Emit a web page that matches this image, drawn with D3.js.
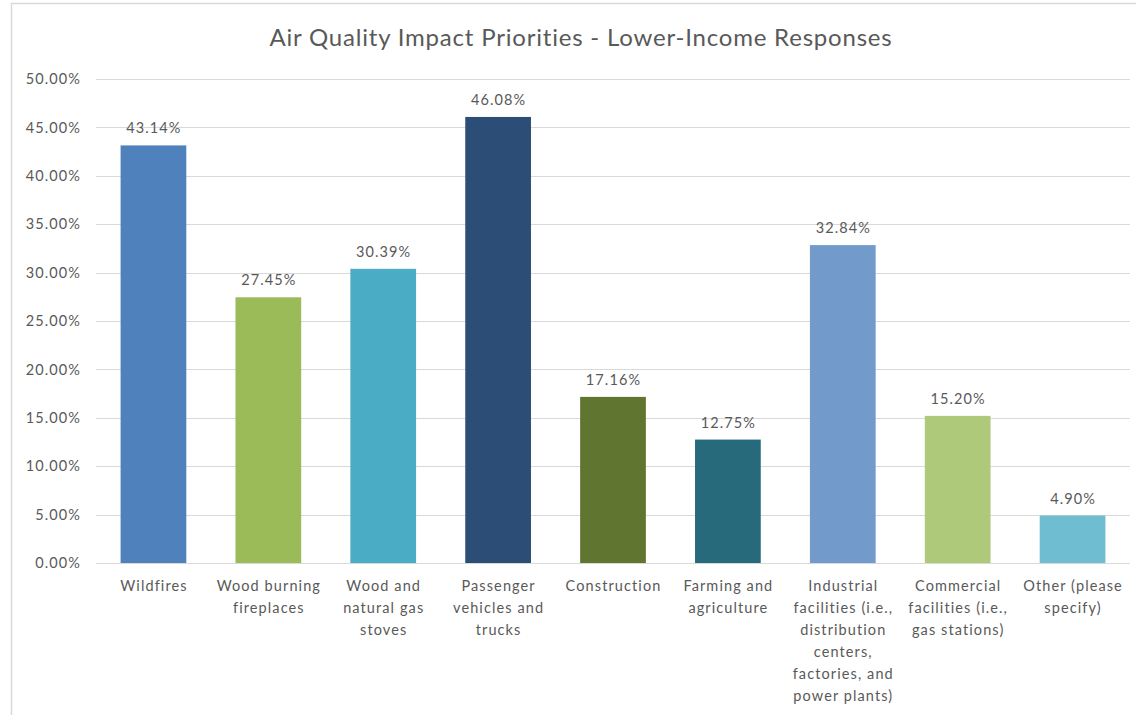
<!DOCTYPE html>
<html>
<head>
<meta charset="utf-8">
<script src="https://cdn.jsdelivr.net/npm/d3@7"></script>
<style>
  html, body { margin: 0; padding: 0; background: #fff; }
  svg { display: block; }
  text { font-family: Lato, "Open Sans", sans-serif; fill: #595959; }
</style>
</head>
<body>
<svg id="chart" width="1136" height="715"></svg>
<script>
const title = "Air Quality Impact Priorities - Lower-Income Responses";
const categories = [
  "Wildfires",
  "Wood burning\nfireplaces",
  "Wood and\nnatural gas\nstoves",
  "Passenger\nvehicles and\ntrucks",
  "Construction",
  "Farming and\nagriculture",
  "Industrial\nfacilities (i.e.,\ndistribution\ncenters,\nfactories, and\npower plants)",
  "Commercial\nfacilities (i.e.,\ngas stations)",
  "Other (please\nspecify)"
];
const values = [43.14, 27.45, 30.39, 46.08, 17.16, 12.75, 32.84, 15.20, 4.90];
const colors = ["#4F81BD", "#9BBB59", "#4BACC6", "#2C4D75", "#5F7530", "#276A7C", "#729ACA", "#AFC97A", "#6FBDD1"];
const yTicks = [0, 5, 10, 15, 20, 25, 30, 35, 40, 45, 50];

const svg = d3.select("#chart");
const W = 1136, H = 715;
const plot = { left: 96, right: 1130, top: 79, bottom: 563 };
const small = { size: "14.5px", ls: "1.1px" };

// chart frame
svg.append("rect")
  .attr("x", 11.5).attr("y", 3.5)
  .attr("width", W + 20).attr("height", H + 20)
  .attr("fill", "#fff").attr("stroke", "#d9d9d9").attr("stroke-width", 1.5);

const x = d3.scaleBand()
  .domain(categories)
  .range([plot.left, plot.right])
  .paddingInner(0.428)
  .paddingOuter(0.214);

const y = d3.scaleLinear()
  .domain([0, 50])
  .range([plot.bottom, plot.top]);

// gridlines
svg.append("g").selectAll("line").data(yTicks).join("line")
  .attr("x1", plot.left).attr("x2", plot.right)
  .attr("y1", d => Math.round(y(d)) + 0.5).attr("y2", d => Math.round(y(d)) + 0.5)
  .attr("stroke", "#d9d9d9").attr("stroke-width", 1.2);

// y axis labels
const yAxis = d3.axisLeft(y).tickValues(yTicks).tickSize(0).tickPadding(15)
  .tickFormat(d => d3.format(".2f")(d) + "%");
const yg = svg.append("g").attr("transform", `translate(${plot.left},0)`).call(yAxis);
yg.select(".domain").remove();
yg.selectAll("text").style("font-size", small.size).style("fill", "#595959")
  .style("letter-spacing", small.ls)
  .style("font-family", "Lato, 'Open Sans', sans-serif");

// bars
svg.append("g").selectAll("rect").data(values).join("rect")
  .attr("x", (d, i) => x(categories[i]))
  .attr("width", x.bandwidth())
  .attr("y", d => y(d))
  .attr("height", d => y(0) - y(d))
  .attr("fill", (d, i) => colors[i]);

// data labels
svg.append("g").selectAll("text").data(values).join("text")
  .attr("x", (d, i) => x(categories[i]) + x.bandwidth() / 2 + 0.5)
  .attr("y", d => y(d) - 12)
  .attr("text-anchor", "middle")
  .style("font-size", small.size)
  .style("letter-spacing", small.ls)
  .text(d => d3.format(".2f")(d) + "%");

// category labels
const xg = svg.append("g");
categories.forEach((c, i) => {
  const cx = x(c) + x.bandwidth() / 2 + 0.5;
  const t = xg.append("text")
    .attr("x", cx)
    .attr("y", 591)
    .attr("text-anchor", "middle")
    .style("font-size", small.size)
    .style("letter-spacing", small.ls);
  c.split("\n").forEach((line, j) => {
    t.append("tspan")
      .attr("x", cx)
      .attr("dy", j === 0 ? 0 : 22)
      .text(line);
  });
});

// title
svg.append("text")
  .attr("x", 581).attr("y", 46)
  .attr("text-anchor", "middle")
  .style("font-size", "24px")
  .style("letter-spacing", "0.8px")
  .text(title);
</script>
</body>
</html>
